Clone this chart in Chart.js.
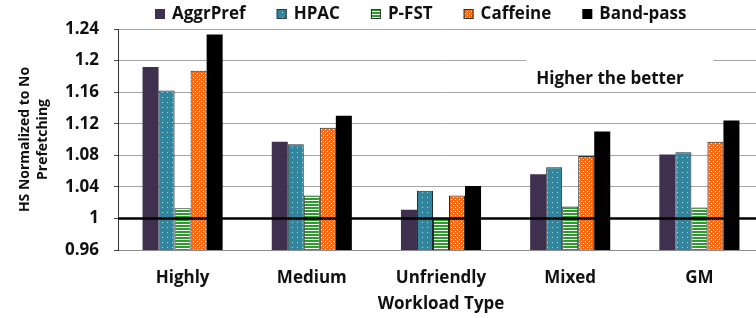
<!DOCTYPE html>
<html>
<head>
<meta charset="utf-8">
<script src="https://cdn.jsdelivr.net/npm/chart.js@4"></script>
<style>
  html, body { margin: 0; padding: 0; background: #fff; overflow: hidden; }
  #wrap { width: 766px; height: 318px; }
</style>
</head>
<body>
<div id="wrap"><canvas id="hsChart" width="766" height="318"></canvas></div>
<script>
// categories and values
const categories = ["Highly", "Medium", "Unfriendly", "Mixed", "GM"];
const aggrPref = [1.192, 1.097, 1.011, 1.056, 1.081];
const hpac     = [1.162, 1.094, 1.035, 1.065, 1.084];
const pFst     = [1.013, 1.029, 1.000, 1.015, 1.014];
const caffeine = [1.187, 1.115, 1.029, 1.079, 1.097];
const bandPass = [1.233, 1.130, 1.041, 1.110, 1.124];
const yTicks = [0.96, 1, 1.04, 1.08, 1.12, 1.16, 1.2, 1.24];
const refValue = 1;

const FONT = "'Open Sans', Lato, sans-serif";

function makePattern(w, h, draw) {
    const c = document.createElement('canvas');
    c.width = w; c.height = h;
    const g = c.getContext('2d');
    draw(g);
    return document.getElementById('hsChart').getContext('2d').createPattern(c, 'repeat');
}

const hpacFill = makePattern(5, 5, function (g) {
    g.fillStyle = '#31859c';
    g.fillRect(0, 0, 5, 5);
    g.fillStyle = '#a9d6e0';
    g.fillRect(2, 2, 1, 1);
});
const pfstFill = makePattern(1, 3, function (g) {
    g.fillStyle = '#ffffff';
    g.fillRect(0, 0, 1, 3);
    g.fillStyle = '#2f9a2f';
    g.fillRect(0, 0, 1, 2);
});
const caffFill = makePattern(4, 4, function (g) {
    g.fillStyle = '#ff6a10';
    g.fillRect(0, 0, 4, 4);
    g.fillStyle = '#ffffff';
    g.fillRect(1, 1, 1, 1);
    g.fillRect(3, 3, 1, 1);
});

// legend, reference line at 1 and the note
const overlay = {
    id: 'overlay',
    afterDatasetsDraw(chart) {
        const ctx = chart.ctx;
        const y = chart.scales.y.getPixelForValue(refValue);
        ctx.save();
        ctx.strokeStyle = '#000';
        ctx.lineWidth = 2.5;
        ctx.beginPath();
        ctx.moveTo(chart.chartArea.left, y);
        ctx.lineTo(chart.width, y);
        ctx.stroke();
        ctx.restore();
    },
    afterDraw(chart) {
        const ctx = chart.ctx;
        ctx.save();
        // note box
        ctx.fillStyle = '#fff';
        ctx.fillRect(526, 57, 187, 33);
        ctx.fillStyle = '#111';
        ctx.font = 'bold 17px ' + FONT;
        ctx.textAlign = 'center';
        ctx.textBaseline = 'middle';
        ctx.fillText('Higher the better', 610, 79);

        // legend
        ctx.font = 'bold 17px ' + FONT;
        ctx.textAlign = 'left';
        let x = 155;
        chart.data.datasets.forEach(function (ds) {
            ctx.fillStyle = ds.backgroundColor;
            ctx.fillRect(x, 9, 10, 10);
            if (ds.borderWidth) {
                ctx.strokeStyle = '#333';
                ctx.lineWidth = 1;
                ctx.strokeRect(x + 0.5, 9.5, 9, 9);
            }
            ctx.fillStyle = '#111';
            ctx.fillText(ds.label, x + 17, 14);
            x += 17 + ctx.measureText(ds.label).width + 31;
        });
        ctx.restore();
    }
};

function initChart() {
    createChart("hsChart", {
        type: "bar",
        data: {
            labels: categories,
            datasets: [
                { label: "AggrPref", data: aggrPref, backgroundColor: "#3f3050", borderWidth: 0 },
                { label: "HPAC", data: hpac, backgroundColor: hpacFill, borderColor: "#1e2a2e", borderWidth: 1 },
                { label: "P-FST", data: pFst, backgroundColor: pfstFill, borderColor: "#1e2a1e", borderWidth: 1 },
                { label: "Caffeine", data: caffeine, backgroundColor: caffFill, borderColor: "#2a2a2a", borderWidth: 1 },
                { label: "Band-pass", data: bandPass, backgroundColor: "#000000", borderWidth: 0 },
            ],
        },
        options: {
            responsive: false,
            animation: false,
            layout: { padding: { top: 29, right: 2, left: 0, bottom: 0 } },
            datasets: { bar: { barPercentage: 1, categoryPercentage: 0.62 } },
            plugins: {
                legend: { display: false },
                tooltip: { enabled: false },
            },
            scales: {
                x: {
                    grid: { display: false, drawTicks: false },
                    border: { display: true, color: "#8c8c8c", width: 1 },
                    ticks: { color: "#111", font: { family: FONT, size: 17, weight: "bold" }, padding: 18, maxRotation: 0 },
                    title: {
                        display: true,
                        text: "Workload Type",
                        color: "#111",
                        font: { family: FONT, size: 17, weight: "bold", lineHeight: 1.2 },
                        padding: { top: 0, bottom: 4 },
                    },
                    afterFit: function (s) { s.height = 68; },
                },
                y: {
                    min: 0.96,
                    max: 1.24,
                    afterBuildTicks: function (s) { s.ticks = yTicks.map(function (v) { return { value: v }; }); },
                    grid: {
                        color: function (c) { return c.tick && c.tick.value === refValue ? "#000" : "#a6a6a6"; },
                        tickLength: 4,
                        tickColor: "#444",
                    },
                    border: { display: true, color: "#333", width: 1 },
                    ticks: {
                        color: "#111",
                        font: { family: FONT, size: 17, weight: "bold" },
                        padding: 15,
                        callback: function (v) { return String(Number(v.toFixed(2))); },
                    },
                    title: {
                        display: true,
                        text: ["HS Normalized to No", "Prefetching"],
                        color: "#111",
                        font: { family: FONT, size: 14, weight: "bold", lineHeight: 1.3 },
                        padding: { top: 16, bottom: 0 },
                    },
                    afterFit: function (s) { s.width = 118; },
                },
            },
        },
        plugins: [overlay],
    });
}

function createChart(id, config) {
    const ctx = document.getElementById(id);
    if (!ctx) {
        console.error(`Canvas element with id '${id}' not found`);
        return;
    }
    if (ctx.chart) {
        ctx.chart.destroy();
    }
    ctx.chart = new Chart(ctx, config);
}

initChart();
</script>
</body>
</html>
